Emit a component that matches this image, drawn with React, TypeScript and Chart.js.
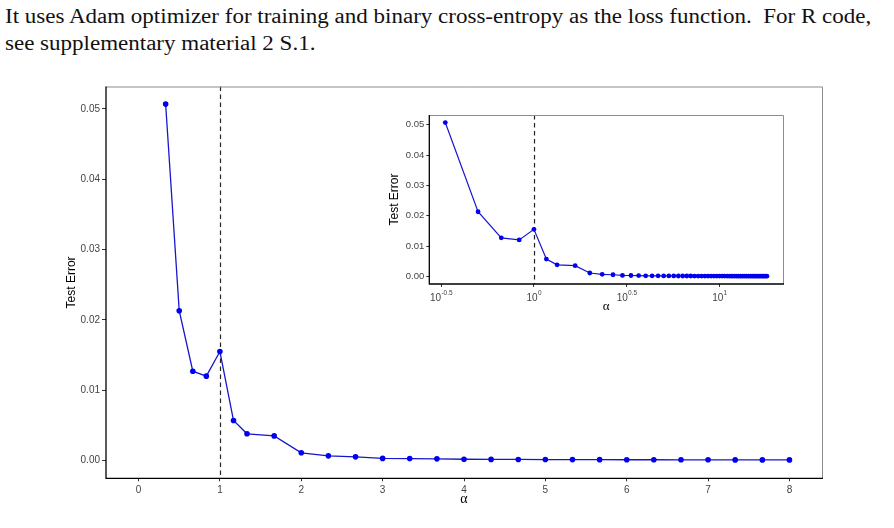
import React, { useEffect, useRef } from "react";
import { Chart, registerables } from "chart.js";

Chart.register(...registerables);

// ---- data ----
const alphaMain = [
  0.333, 0.5, 0.667, 0.833, 1, 1.167, 1.333, 1.667, 2, 2.333, 2.667, 3, 3.333, 3.667, 4,
  4.333, 4.667, 5, 5.333, 5.667, 6, 6.333, 6.667, 7, 7.333, 7.667, 8,
];
const errorMain = [
  0.0507, 0.0213, 0.0127, 0.012, 0.0155, 0.0057, 0.0038, 0.0035, 0.0011, 0.00066, 0.00052,
  0.0003, 0.00028, 0.00024, 0.00018, 0.00016, 0.00015, 0.00014, 0.00013, 0.00012, 0.00011,
  0.00011, 0.0001, 0.0001, 0.00009, 0.00009, 0.00009,
];
const alphaTail = [
  8.333, 8.667, 9, 9.333, 9.667, 10, 10.333, 10.667, 11, 11.333, 11.667, 12, 12.333, 12.667,
  13, 13.333, 13.667, 14, 14.333, 14.667, 15, 15.333, 15.667, 16, 16.333, 16.667, 17, 17.333,
  17.667, 18,
];
const errorTail = [
  0.00009, 0.00008, 0.00008, 0.00008, 0.00008, 0.00007, 0.00007, 0.00007, 0.00007, 0.00006,
  0.00006, 0.00006, 0.00006, 0.00006, 0.00005, 0.00005, 0.00005, 0.00005, 0.00005, 0.00005,
  0.00005, 0.00004, 0.00004, 0.00004, 0.00004, 0.00004, 0.00004, 0.00004, 0.00004, 0.00004,
];
const mainXTicks = [0, 1, 2, 3, 4, 5, 6, 7, 8];
const yTicks = [0, 0.01, 0.02, 0.03, 0.04, 0.05];
const insetXTickExps = [-0.5, 0, 0.5, 1];
const insetXTickLabels = ["-0.5", "0", "0.5", "1"];
const cutoffAlpha = 1;
const yTitle = "Test Error";
const xTitle = "α";
const introLines = [
  "It uses Adam optimizer for training and binary cross-entropy as the loss function.\u2002For R code,",
  "see supplementary material 2 S.1.",
];

const SANS = "'Liberation Sans', Arial, sans-serif";
const SERIF = "'Liberation Serif', 'Times New Roman', serif";
const LINE_COLOR = "#1616cc";
const POINT_COLOR = "#0000ee";

function makeDecor(opts: {
  titleFont: number;
  yTitleX: number;
  xTitleY: number;
  alphaFont: number;
  logLabels?: boolean;
}) {
  return {
    id: "decor",
    beforeDatasetsDraw(chart: any) {
      const { ctx, chartArea, scales } = chart;
      const px = scales.x.getPixelForValue(cutoffAlpha);
      ctx.save();
      ctx.strokeStyle = "#222";
      ctx.lineWidth = 1.2;
      ctx.setLineDash([4.5, 3.5]);
      ctx.beginPath();
      ctx.moveTo(Math.round(px) + 0.5, chartArea.top);
      ctx.lineTo(Math.round(px) + 0.5, chartArea.bottom);
      ctx.stroke();
      ctx.restore();
    },
    afterDraw(chart: any) {
      const { ctx, chartArea, scales } = chart;
      const { left, right, top, bottom } = chartArea;
      ctx.save();
      // gray top/right border
      ctx.strokeStyle = "#8c8c8c";
      ctx.lineWidth = 1;
      ctx.beginPath();
      ctx.moveTo(left, top + 0.5);
      ctx.lineTo(right + 0.5, top + 0.5);
      ctx.lineTo(right + 0.5, bottom);
      ctx.stroke();
      // black axis lines
      ctx.strokeStyle = "#000";
      ctx.lineWidth = 1.3;
      ctx.beginPath();
      ctx.moveTo(left, top);
      ctx.lineTo(left, bottom);
      ctx.lineTo(right + 1, bottom);
      ctx.stroke();
      // titles
      ctx.fillStyle = "#000";
      ctx.textAlign = "center";
      ctx.textBaseline = "middle";
      ctx.save();
      ctx.translate(opts.yTitleX, (top + bottom) / 2);
      ctx.rotate(-Math.PI / 2);
      ctx.font = `${opts.titleFont}px ${SANS}`;
      ctx.fillText(yTitle, 0, 0);
      ctx.restore();
      ctx.font = `${opts.alphaFont}px ${SERIF}`;
      ctx.fillText(xTitle, (left + right) / 2, opts.xTitleY);
      // log-scale tick labels with superscripts
      if (opts.logLabels) {
        ctx.fillStyle = "#444";
        ctx.textAlign = "left";
        ctx.textBaseline = "alphabetic";
        insetXTickExps.forEach((e, i) => {
          const p = scales.x.getPixelForValue(Math.pow(10, e));
          ctx.font = `10px ${SANS}`;
          const wb = ctx.measureText("10").width;
          ctx.font = `6.5px ${SANS}`;
          const we = ctx.measureText(insetXTickLabels[i]).width;
          const start = p - (wb + we) / 2;
          ctx.font = `10px ${SANS}`;
          ctx.fillText("10", start, bottom + 16.5);
          ctx.font = `6.5px ${SANS}`;
          ctx.fillText(insetXTickLabels[i], start + wb + 0.3, bottom + 11);
        });
      }
      ctx.restore();
    },
  };
}

function MainChart() {
  const ref = useRef<HTMLCanvasElement>(null);
  useEffect(() => {
    const chart = new Chart(ref.current!, {
      type: "scatter",
      data: {
        datasets: [
          {
            data: alphaMain.map((a, i) => ({ x: a, y: errorMain[i] })),
            showLine: true,
            borderColor: LINE_COLOR,
            borderWidth: 1.3,
            backgroundColor: POINT_COLOR,
            pointBackgroundColor: POINT_COLOR,
            pointBorderWidth: 0,
            pointRadius: 2.8,
          },
        ],
      },
      options: {
        animation: false,
        responsive: false,
        devicePixelRatio: 1,
        layout: { padding: { left: 66, top: 86.5, right: 72, bottom: 24.7 } },
        plugins: { legend: { display: false }, tooltip: { enabled: false } },
        scales: {
          x: {
            type: "linear",
            min: -0.4,
            max: 8.4,
            afterBuildTicks: (s: any) => {
              s.ticks = mainXTicks.map((v) => ({ value: v }));
            },
            afterFit: (s: any) => {
              s.height = 25;
            },
            grid: { drawOnChartArea: false, drawTicks: true, tickLength: 3, tickColor: "#333", tickWidth: 1 },
            border: { display: false },
            ticks: { color: "#444", font: { family: SANS, size: 10 }, padding: 2.5, maxRotation: 0 },
          },
          y: {
            min: -0.00253,
            max: 0.0532,
            afterBuildTicks: (s: any) => {
              s.ticks = yTicks.map((v) => ({ value: v }));
            },
            afterFit: (s: any) => {
              s.width = 40;
            },
            grid: { drawOnChartArea: false, drawTicks: true, tickLength: 4, tickColor: "#333", tickWidth: 1 },
            border: { display: false },
            ticks: {
              color: "#444",
              font: { family: SANS, size: 10 },
              padding: 2,
              callback: (v: any) => Number(v).toFixed(2),
            },
          },
        },
      },
      plugins: [makeDecor({ titleFont: 12, yTitleX: 72, xTitleY: 499, alphaFont: 14 })],
    } as any);
    return () => chart.destroy();
  }, []);
  return <canvas ref={ref} width={894} height={528} style={{ position: "absolute", left: 0, top: 0, width: 894, height: 528 }} />;
}

function InsetChart() {
  const ref = useRef<HTMLCanvasElement>(null);
  useEffect(() => {
    const xs = alphaMain.concat(alphaTail);
    const ys = errorMain.concat(errorTail);
    const chart = new Chart(ref.current!, {
      type: "scatter",
      data: {
        datasets: [
          {
            data: xs.map((a, i) => ({ x: a, y: ys[i] })),
            showLine: true,
            borderColor: LINE_COLOR,
            borderWidth: 1.2,
            backgroundColor: POINT_COLOR,
            pointBackgroundColor: POINT_COLOR,
            pointBorderWidth: 0,
            pointRadius: 2.4,
          },
        ],
      },
      options: {
        animation: false,
        responsive: false,
        devicePixelRatio: 1,
        layout: { padding: { left: 19.3, top: 10, right: 7, bottom: 16 } },
        plugins: { legend: { display: false }, tooltip: { enabled: false } },
        scales: {
          x: {
            type: "logarithmic",
            min: Math.pow(10, -0.5637),
            max: Math.pow(10, 1.342),
            afterBuildTicks: (s: any) => {
              s.ticks = insetXTickExps.map((e) => ({ value: Math.pow(10, e) }));
            },
            afterFit: (s: any) => {
              s.height = 20;
            },
            grid: { drawOnChartArea: false, drawTicks: true, tickLength: 3, tickColor: "#333", tickWidth: 1 },
            border: { display: false },
            ticks: { callback: () => "", font: { size: 9 } },
          },
          y: {
            min: -0.00253,
            max: 0.0532,
            afterBuildTicks: (s: any) => {
              s.ticks = yTicks.map((v) => ({ value: v }));
            },
            afterFit: (s: any) => {
              s.width = 30;
            },
            grid: { drawOnChartArea: false, drawTicks: true, tickLength: 3, tickColor: "#333", tickWidth: 1 },
            border: { display: false },
            ticks: {
              color: "#444",
              font: { family: SANS, size: 9.5 },
              padding: 2,
              callback: (v: any) => Number(v).toFixed(2),
            },
          },
        },
      },
      plugins: [makeDecor({ titleFont: 12, yTitleX: 15, xTitleY: 202, alphaFont: 13, logLabels: true })],
    } as any);
    return () => chart.destroy();
  }, []);
  return <canvas ref={ref} width={410} height={215} style={{ position: "absolute", left: 380, top: 105, width: 410, height: 215 }} />;
}

export default function App() {
  return (
    <div style={{ position: "fixed", left: 0, top: 0, width: 894, height: 528, background: "#fff", overflow: "hidden" }}>
      <div
        style={{
          position: "absolute",
          left: 5,
          top: 3,
          fontFamily: SERIF,
          fontSize: 20,
          lineHeight: "27px",
          color: "#111",
          whiteSpace: "pre",
          transform: "scaleX(1.15)",
          transformOrigin: "0 0",
        }}
      >
        {introLines.map((l, i) => (
          <div key={i}>{l}</div>
        ))}
      </div>
      <MainChart />
      <InsetChart />
    </div>
  );
}
